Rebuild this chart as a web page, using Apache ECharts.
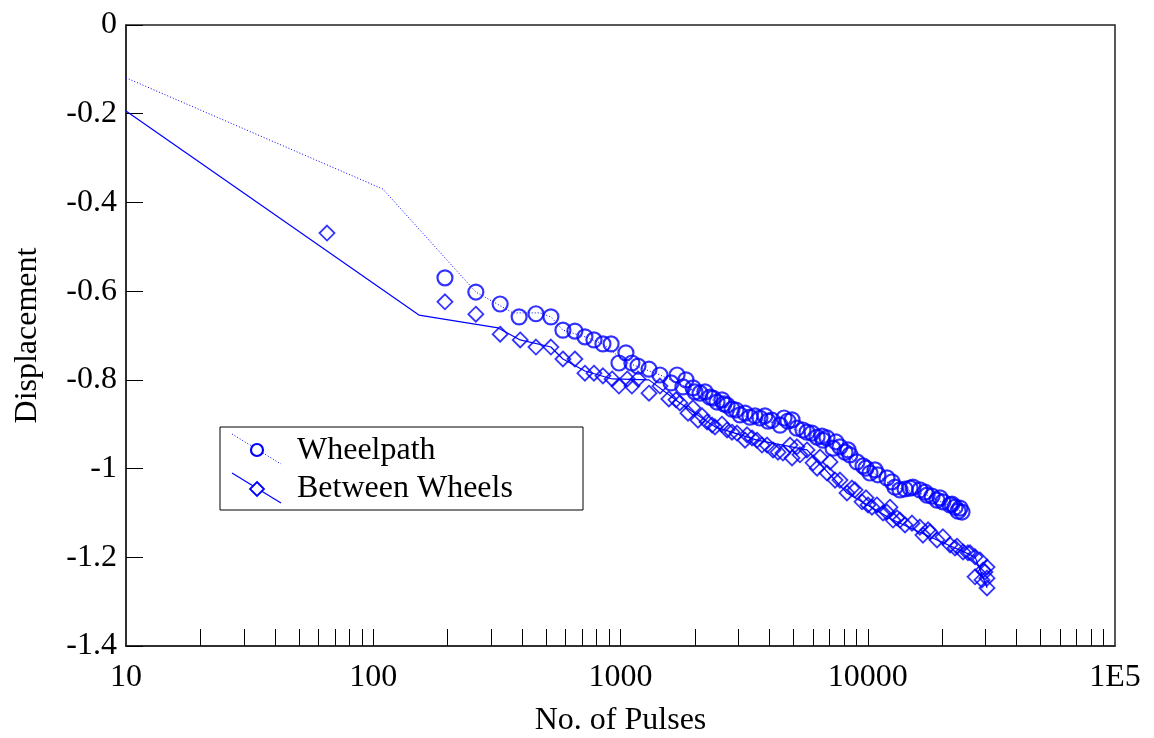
<!DOCTYPE html>
<html>
<head>
<meta charset="utf-8">
<script src="https://cdn.jsdelivr.net/npm/echarts@6/dist/echarts.min.js"></script>
<style>
html,body{margin:0;padding:0;background:#fff;}
#chart{width:1154px;height:738px;}
</style>
</head>
<body>
<div id="chart"></div>
<script>
// ---- data ----
var seriesNames = ['Wheelpath', 'Between Wheels'];

// Wheelpath markers (circles)
var wheelX = [195,260,326,389,455,523,585,654,718,781,849,916,1052,986,1112,1177,1304,1444,1693,1601,
  1789,1840,1965,2000,2097,2198,2301,2367,2456,2572,2622,2697,2825,2933,3043,3190,3340,3500,3664,3840,3950,
  4100,4416,4585,4755,4940,5172,5470,5679,5950,6237,6530,6590,6843,7236,7440,7720,8090,8320,8470,9043,
  9570,9840,10207,10700,10990,11960,12530,12890,13500,14150,14830,15240,16250,17060,17370,18200,19060,
  19590,20140,21520,21920,22540,23190,23620,24060];
var wheelY = [-0.570,-0.602,-0.629,-0.658,-0.651,-0.658,-0.688,-0.690,-0.703,-0.710,-0.719,-0.719,-0.739,-0.762,-0.762,-0.769,-0.776,-0.789,-0.789,-0.807,
  -0.816,-0.800,-0.818,-0.827,-0.830,-0.827,-0.839,-0.841,-0.850,-0.845,-0.854,-0.857,-0.866,-0.868,-0.879,-0.875,-0.884,-0.881,-0.886,-0.881,-0.893,
  -0.891,-0.902,-0.886,-0.893,-0.890,-0.909,-0.913,-0.918,-0.920,-0.929,-0.927,-0.936,-0.931,-0.954,-0.940,-0.951,-0.963,-0.958,-0.969,-0.985,
  -0.994,-0.999,-1.010,-1.003,-1.014,-1.021,-1.030,-1.042,-1.048,-1.046,-1.044,-1.042,-1.048,-1.053,-1.060,-1.062,-1.071,
  -1.066,-1.075,-1.082,-1.080,-1.087,-1.096,-1.089,-1.098];

// Between Wheels markers (diamonds)
var betweenX = [65,195,260,326,393,455,523,585,654,718,781,849,925,986,1065,1112,1177,1304,1444,1569,1677,1738,
  1875,1964,2058,2138,2240,2346,2411,2572,2697,2825,2959,3190,3250,3404,3565,3735,3916,4140,4335,4540,4850,4940,
  5172,5320,5679,6010,6237,6415,6843,7035,7375,7720,8240,8630,8880,9480,9840,10020,10400,10890,11530,11960,
  12300,12650,13130,13500,14150,15100,16250,16720,17540,17860,19060,20140,21520,22540,22960,24290,25430,
  25940,27170,28440,28970,29240,29790,30360,27170,30360,30360];
var betweenY = [-0.469,-0.624,-0.652,-0.697,-0.710,-0.726,-0.726,-0.753,-0.753,-0.785,-0.785,-0.791,-0.798,-0.814,-0.798,-0.814,-0.798,-0.830,-0.814,-0.843,-0.845,-0.852,
  -0.875,-0.863,-0.891,-0.881,-0.895,-0.902,-0.906,-0.900,-0.913,-0.918,-0.920,-0.936,-0.924,-0.931,-0.936,-0.947,-0.947,-0.958,-0.963,-0.965,-0.947,-0.976,
  -0.951,-0.969,-0.958,-0.987,-0.999,-0.974,-1.010,-0.985,-1.026,-1.026,-1.055,-1.044,-1.048,-1.075,-1.066,-1.082,-1.087,-1.082,-1.100,-1.098,
  -1.087,-1.116,-1.111,-1.116,-1.127,-1.123,-1.132,-1.150,-1.138,-1.143,-1.161,-1.154,-1.172,-1.179,-1.175,-1.188,-1.190,
  -1.190,-1.199,-1.206,-1.251,-1.229,-1.233,-1.222,-1.244,-1.247,-1.269];

// Curves drawn through the data
var wheelLineX = [10,109.5,260,367,472,523,585,718,849,1052,1444,2097,3043,4416,6237,9043,12890,17370,24060];
var wheelLineY = [-0.119,-0.370,-0.602,-0.649,-0.649,-0.658,-0.688,-0.703,-0.719,-0.760,-0.789,-0.830,-0.879,-0.900,-0.929,-0.985,-1.042,-1.060,-1.098];
var betweenLineX = [10,153,320,393,523,585,718,925,1304,1738,2411,3565,5679,8240,12650,19060,27170,30360];
var betweenLineY = [-0.194,-0.654,-0.683,-0.710,-0.726,-0.753,-0.780,-0.798,-0.800,-0.852,-0.906,-0.936,-0.958,-1.055,-1.116,-1.161,-1.199,-1.269];

// axis ticks and labels
var xTickValues = [20,30,40,50,60,70,80,90,100,200,300,400,500,600,700,800,900,1000,
  2000,3000,4000,5000,6000,7000,8000,9000,10000,20000,30000,40000,50000,60000,70000,80000,90000];
var xLabelValues = [10,100,1000,10000,100000];
var xLabelText = {'10':'10','100':'100','1000':'1000','10000':'10000','100000':'1E5'};

// ---- chart ----
function zip(a, b) { return a.map(function (v, i) { return [v, b[i]]; }); }
var blue = '#0000ff';
var font = 'Liberation Serif, Times New Roman, serif';

var chart = echarts.init(document.getElementById('chart'), null, {renderer: 'canvas'});
chart.setOption({
  animation: false,
  backgroundColor: '#fff',
  grid: {left: 126, right: 39, top: 25, bottom: 92, containLabel: false, outerBoundsMode: 'none',
    show: true, borderColor: '#222', borderWidth: 1.5, backgroundColor: 'transparent'},
  xAxis: {
    type: 'log', logBase: 10, min: 10, max: 100000,
    name: 'No. of Pulses', nameLocation: 'middle', nameGap: 59,
    nameTextStyle: {fontFamily: font, fontSize: 32, color: '#000'},
    axisLine: {show: true, onZero: false, lineStyle: {color: '#222', width: 1.5}},
    axisTick: {show: true, inside: true, length: 17, customValues: xTickValues, lineStyle: {color: '#000', width: 1}},
    axisLabel: {show: true, margin: 16, customValues: xLabelValues, fontFamily: font, fontSize: 32, color: '#000',
      formatter: function (v) { var k = String(Math.round(v)); return xLabelText[k] !== undefined ? xLabelText[k] : k; }},
    splitLine: {show: false}, minorTick: {show: false}
  },
  yAxis: {
    type: 'value', min: -1.4, max: 0, interval: 0.2,
    name: 'Displacement', nameLocation: 'middle', nameGap: 82, nameRotate: 90,
    nameTextStyle: {fontFamily: font, fontSize: 32, color: '#000'},
    axisLine: {show: true, onZero: false, lineStyle: {color: '#222', width: 1.5}},
    axisTick: {show: true, inside: true, length: 17, lineStyle: {color: '#000', width: 1}},
    axisLabel: {margin: 9, fontFamily: font, fontSize: 32, color: '#000',
      formatter: function (v) { return String(Math.round(v * 10) / 10); }},
    splitLine: {show: false}
  },
  series: [
    {name: seriesNames[0] + ' curve', type: 'line', data: zip(wheelLineX, wheelLineY), showSymbol: false, symbol: 'none',
      lineStyle: {color: blue, width: 1, type: [1, 2]}, z: 2},
    {name: seriesNames[1] + ' curve', type: 'line', data: zip(betweenLineX, betweenLineY), showSymbol: false, symbol: 'none',
      lineStyle: {color: blue, width: 1.2, type: 'solid'}, z: 2},
    {name: seriesNames[0], type: 'scatter', data: zip(wheelX, wheelY), symbol: 'circle', symbolSize: 15,
      itemStyle: {color: 'rgba(0,0,0,0)', borderColor: blue, borderWidth: 2.2}, z: 3},
    {name: seriesNames[1], type: 'scatter', data: zip(betweenX, betweenY), symbol: 'diamond', symbolSize: 15,
      itemStyle: {color: 'rgba(0,0,0,0)', borderColor: blue, borderWidth: 1.8}, z: 3}
  ],
  graphic: [
    {type: 'rect', z: 10, shape: {x: 220, y: 427, width: 363, height: 83}, style: {fill: '#fff', stroke: '#000', lineWidth: 1}},
    {type: 'line', z: 11, shape: {x1: 232, y1: 434, x2: 281, y2: 464}, style: {stroke: blue, lineWidth: 1, lineDash: [1, 2]}},
    {type: 'circle', z: 12, shape: {cx: 257, cy: 450, r: 6}, style: {fill: '#fff', stroke: blue, lineWidth: 2.2}},
    {type: 'text', z: 12, style: {x: 297, y: 451, verticalAlign: 'middle', text: seriesNames[0], font: '32px ' + font, fill: '#000'}},
    {type: 'line', z: 11, shape: {x1: 232, y1: 473, x2: 281, y2: 503}, style: {stroke: blue, lineWidth: 1.2}},
    {type: 'polygon', z: 12, shape: {points: [[257, 482], [264, 489], [257, 496], [250, 489]]}, style: {fill: '#fff', stroke: blue, lineWidth: 1.8}},
    {type: 'text', z: 12, style: {x: 297, y: 489, verticalAlign: 'middle', text: seriesNames[1], font: '32px ' + font, fill: '#000'}}
  ]
});
</script>
</body>
</html>
